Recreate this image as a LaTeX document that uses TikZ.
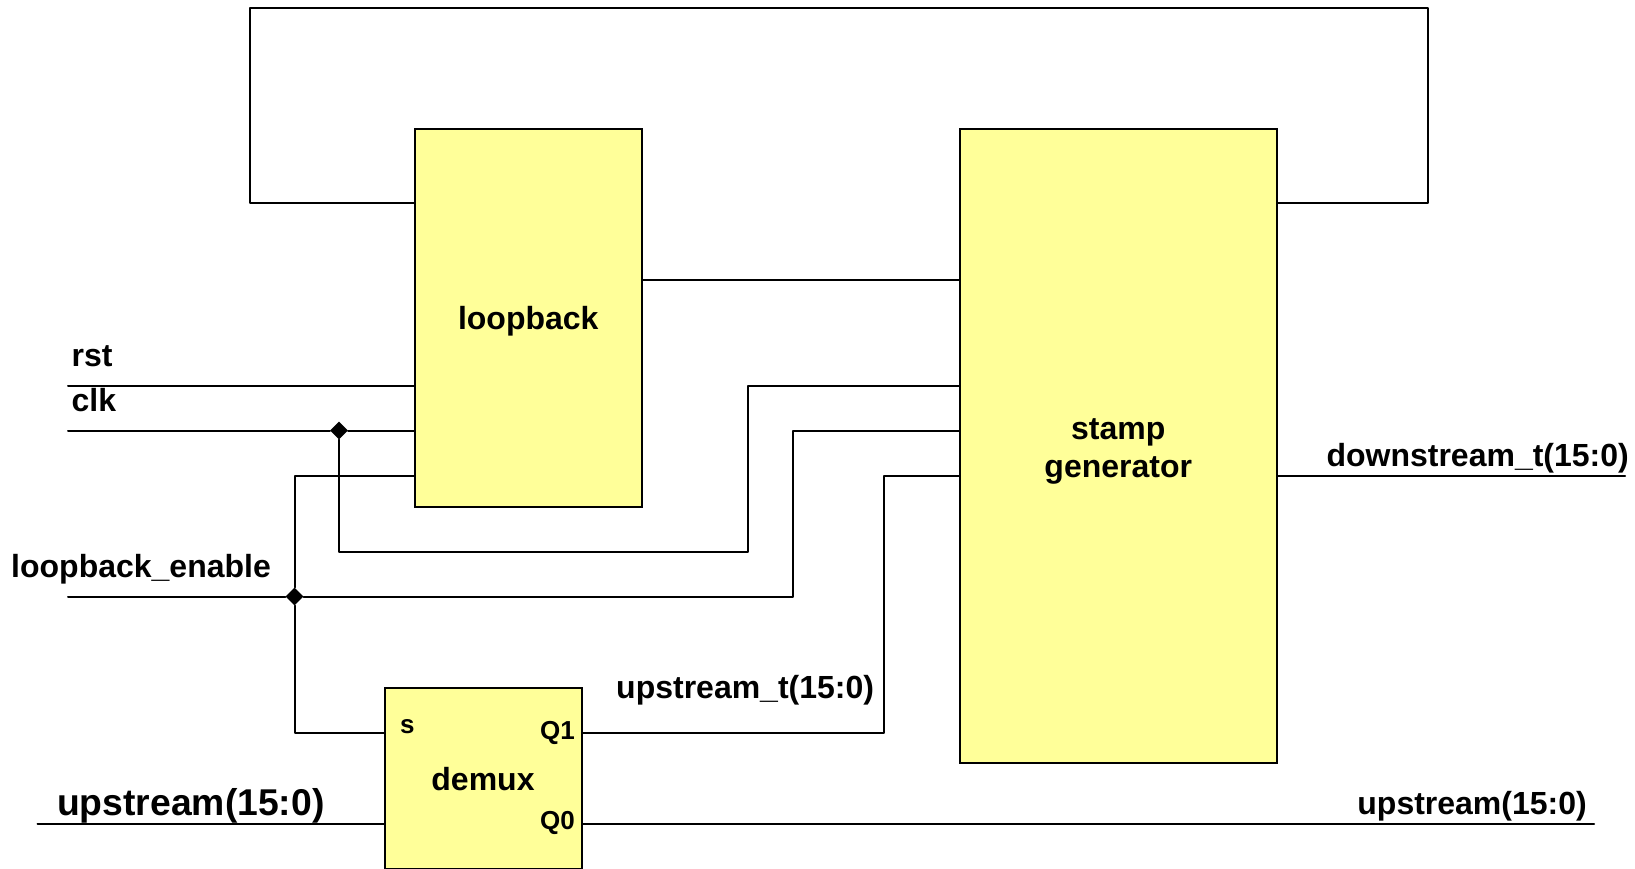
\documentclass[tikz,border=0pt]{standalone}
\usepackage{fontspec}
\setmainfont{Liberation Sans}
\usetikzlibrary{positioning, shapes.geometric, calc}
\definecolor{boxyellow}{HTML}{FFFF99}

\begin{document}
\begin{tikzpicture}[
    x=1pt, y=-1pt,
    block/.style={draw, line width=2pt, fill=boxyellow, inner sep=0pt, font=\fontsize{32}{38}\selectfont\bfseries, align=center},
    sig/.style={inner sep=0pt, font=\fontsize{32}{38}\selectfont\bfseries},
    bigsig/.style={sig, font=\fontsize{37.3}{42}\selectfont\bfseries},
    port/.style={sig, font=\fontsize{26}{30}\selectfont\bfseries},
    dot/.style={diamond, fill=black, inner sep=0pt, minimum size=18pt},
    wire/.style={line width=2pt, line cap=round, line join=round},
]
\useasboundingbox (0,0) rectangle (1635,869);

% blocks
\node[block, minimum width=226.5pt, minimum height=378pt, anchor=north west] (loopback) at (414,128) {};
\node[block, minimum width=317.5pt, minimum height=634pt, right=316pt of loopback.north east, anchor=north west] (stamp) {};
\node[block, minimum width=197pt, minimum height=181pt, anchor=north west] (demux) at (384,687) {};

% free ends and bends
\coordinate (rstin) at (68,385.5);
\coordinate (clkin) at (68,430.5);
\coordinate (enin) at (68,596.5);
\coordinate (usin) at (37.5,824);
\coordinate (usout) at (1594,824);
\coordinate (dsout) at (1625,476);
\coordinate (topleft) at (249.5,8);
\coordinate (topright) at (1428,8);

\node[dot] (clkdot) at (339,430.5) {};
\node[dot] (endot) at (294.5,596.5) {};

% wires
\draw[wire] (loopback.west |- 0,203.5) -| (topleft) -- (topright) |- (stamp.east |- 0,203.5);
\draw[wire] (loopback.east |- 0,279.5) -- (stamp.west |- 0,279.5);
\draw[wire] (rstin) -- (rstin -| loopback.west);
\draw[wire] (clkin) -- (clkdot) -- (clkin -| loopback.west);
\draw[wire] (clkdot) |- (748,551.5) |- (stamp.west |- rstin);
\draw[wire] (enin) -- (endot) -- (793,596.5) |- (stamp.west |- clkin);
\draw[wire] (loopback.west |- 0,476) -| (endot) |- (demux.west |- 0,732.5);
\draw[wire] (demux.east |- 0,732.5) -| (884,476) -- (stamp.west |- 0,476);
\draw[wire] (usin) -- (usin -| demux.west);
\draw[wire] (demux.east |- usout) -- (usout);
\draw[wire] (stamp.east |- dsout) -- (dsout);

% labels
\node[sig] (looplbl) at ($(loopback)+(0,3.5)$) {loopback};
\node[sig, anchor=base west] (rstlbl) at (71.5,366) {rst};
\node[sig, anchor=base west] (clklbl) at (71.5,411) {clk};
\node[sig, anchor=base west] (enlbl) at (11,577) {loopback\_enable};
\node[bigsig, anchor=base west] (uslbl) at (57,815) {upstream(15:0)};
\node[sig, anchor=base east] (usoutlbl) at (1587,814) {upstream(15:0)};
\node[sig, anchor=base east] (dslbl) at (1629,466) {downstream\_t(15:0)};
\node[sig, anchor=base west] (ustlbl) at (616,698) {upstream\_t(15:0)};
\node[sig, align=center] (stamplbl) at ($(stamp)+(0,5)$) {stamp\\generator};
\node[sig] (demuxlbl) at (483,779) {demux};
\node[port, anchor=base west] (slbl) at (400,733) {s};
\node[port, anchor=base east] (qonelbl) at (575,739) {Q1};
\node[port, anchor=base east] (qzerolbl) at (575,829) {Q0};
\end{tikzpicture}
\end{document}
